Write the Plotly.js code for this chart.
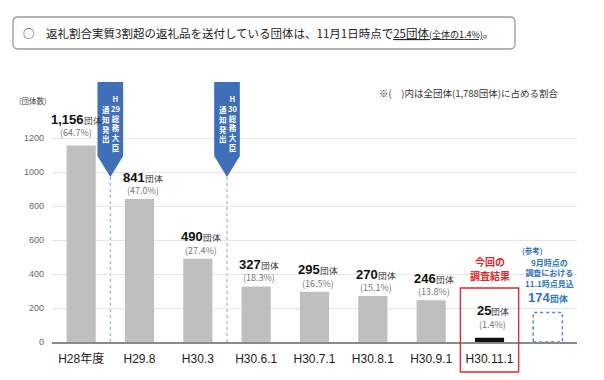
<!DOCTYPE html>
<html>
<head>
<meta charset="utf-8">
<script src="https://cdn.plot.ly/plotly-3.0.1.min.js"></script>
<style>html,body{margin:0;padding:0;background:#fff;}#chart{width:604px;height:380px;}</style>
</head>
<body>
<div id="chart"></div>
<script>
// ---- data ----
const categories = ["H28年度", "H29.8", "H30.3", "H30.6.1", "H30.7.1", "H30.8.1", "H30.9.1", "H30.11.1"];
const counts = [1156, 841, 490, 327, 295, 270, 246, 25];
const shares = [64.7, 47.0, 27.4, 18.3, 16.5, 15.1, 13.8, 1.4];
const refCategory = "参考";
const refCount = 174;
const refLines = ["9月時点の", "調査における", "11.1時点見込"];
const yTicks = [0, 200, 400, 600, 800, 1000, 1200];
const noticeBefore = ["H29.8", "H30.6.1"];
const noticeYears = ["29", "30"];
const noticeTitle = ["総", "務", "大", "臣"];
const noticeBody = ["通", "知", "発", "出"];
const headerText = "○　返礼割合実質3割超の返礼品を送付している団体は、11月1日時点で";
const headerUnderlined = "25団体";
const headerSmall = "(全体の1.4%)";
const noteText = "※(　)内は全団体(1,788団体)に占める割合";
const unitLabel = "(団体数)";
const currentLabel = ["今回の", "調査結果"];

// ---- layout helpers ----
const W = 604, H = 380;
const M = {l: 52, r: 27, t: 70, b: 38};
const PW = W - M.l - M.r, PH = H - M.t - M.b;
const pX = px => (px - M.l) / PW;
const pY = py => (H - M.b - py) / PH;

const JP = '"Noto Sans CJK JP", "Liberation Sans", sans-serif';
const NUM = '"Liberation Sans Narrow", "Liberation Sans", Arial, sans-serif';
const BLUE = '#3f6fb8';
const REFBLUE = '#2f74c0';
const RED = '#e0282e';

const allCats = categories.concat([refCategory]);
const lastIdx = categories.length - 1;
const refIdx = allCats.indexOf(refCategory);

const barColors = counts.map((v, i) => i === lastIdx ? '#111111' : '#bfbfbf');

const traces = [{
  type: 'bar',
  x: categories,
  y: counts,
  width: 0.5,
  marker: {color: barColors},
  hoverinfo: 'skip',
  cliponaxis: false
}];

const annotations = [];
const shapes = [];

// value labels
counts.forEach((v, i) => {
  const extra = (i === 0) ? 4 : (i === lastIdx ? 5 : 0);
  const xs = (i === 0) ? -5 : 3;
  annotations.push({
    x: i, y: v, xref: 'x', yref: 'y', xanchor: 'center', yanchor: 'middle',
    yshift: 22 + extra, xshift: xs, showarrow: false,
    text: '<b>' + v.toLocaleString('en-US') + '</b><span style="font-size:8.5px;color:#333">団体</span>',
    font: {family: NUM, size: 13, color: '#111'}
  });
  annotations.push({
    x: i, y: v, xref: 'x', yref: 'y', xanchor: 'center', yanchor: 'middle',
    yshift: 8.5 + extra, xshift: xs, showarrow: false,
    text: '(' + shares[i].toFixed(1) + '%)',
    font: {family: JP, size: 9, color: '#777'}
  });
});

// header rounded box
(function () {
  const x0 = 13, x1 = 515, y0 = 17, y1 = 49, r = 5;
  const P = (x, y) => pX(x).toFixed(5) + ',' + pY(y).toFixed(5);
  const path = 'M' + P(x0 + r, y0) + ' L' + P(x1 - r, y0) + ' Q' + P(x1, y0) + ' ' + P(x1, y0 + r) +
    ' L' + P(x1, y1 - r) + ' Q' + P(x1, y1) + ' ' + P(x1 - r, y1) +
    ' L' + P(x0 + r, y1) + ' Q' + P(x0, y1) + ' ' + P(x0, y1 - r) +
    ' L' + P(x0, y0 + r) + ' Q' + P(x0, y0) + ' ' + P(x0 + r, y0) + ' Z';
  shapes.push({type: 'path', xref: 'paper', yref: 'paper', path: path,
    line: {color: '#9a9a9a', width: 1.3}, fillcolor: '#ffffff', layer: 'below'});
})();
annotations.push({
  xref: 'paper', yref: 'paper', x: pX(21), y: pY(33), xanchor: 'left', yanchor: 'middle', showarrow: false,
  text: headerText + '<span style="text-decoration:underline">' + headerUnderlined +
    '<span style="font-size:9px">' + headerSmall + '</span></span>。',
  font: {family: JP, size: 11.5, color: '#222'}
});

// note
annotations.push({
  xref: 'paper', yref: 'paper', x: pX(561), y: pY(93), xanchor: 'right', yanchor: 'middle', showarrow: false,
  text: noteText, font: {family: JP, size: 9.5, color: '#333'}
});
// unit label
annotations.push({
  xref: 'paper', yref: 'paper', x: pX(33), y: pY(100), xanchor: 'center', yanchor: 'middle', showarrow: false,
  text: unitLabel, font: {family: JP, size: 7.5, color: '#444'}
});

// notice banners
noticeBefore.forEach((cat, k) => {
  const cx = categories.indexOf(cat) - 0.5;
  const hw = 0.22;
  const yt = pY(82), yc = pY(156), ytip = pY(177);
  shapes.push({
    type: 'path', xref: 'x', yref: 'paper',
    path: 'M' + (cx - hw) + ',' + yt + ' L' + (cx + hw) + ',' + yt + ' L' + (cx + hw) + ',' + yc +
      ' L' + cx + ',' + ytip + ' L' + (cx - hw) + ',' + yc + ' Z',
    fillcolor: BLUE, line: {width: 0}, layer: 'above'
  });
  shapes.push({
    type: 'line', xref: 'x', yref: 'paper', x0: cx, x1: cx, y0: 0, y1: ytip,
    line: {color: '#8aa3c8', width: 1, dash: 'dot'}, layer: 'below'
  });
  const right = ['H', noticeYears[k]].concat(noticeTitle);
  annotations.push({
    xref: 'x', yref: 'paper', x: cx, xshift: 5.5, y: pY(91), xanchor: 'center', yanchor: 'top',
    showarrow: false, text: '<b>' + right.join('<br>') + '</b>', font: {family: JP, size: 7.5, color: '#ffffff'}
  });
  annotations.push({
    xref: 'x', yref: 'paper', x: cx, xshift: -4.5, y: pY(102), xanchor: 'center', yanchor: 'top',
    showarrow: false, text: '<b>' + noticeBody.join('<br>') + '</b>', font: {family: JP, size: 7.5, color: '#ffffff'}
  });
});

// current survey red box and label
shapes.push({
  type: 'rect', xref: 'x', yref: 'paper', x0: lastIdx - 0.5, x1: lastIdx + 0.5, y0: pY(372), y1: pY(288),
  line: {color: RED, width: 1.3}, fillcolor: 'rgba(0,0,0,0)', layer: 'above'
});
currentLabel.forEach((line, j) => {
  annotations.push({
    xref: 'x', yref: 'paper', x: lastIdx, y: pY(261 + j * 14.5), xanchor: 'center', yanchor: 'middle', showarrow: false,
    text: '<b>' + line + '</b>', font: {family: JP, size: 10, color: RED}
  });
});

// reference (estimate) dashed box and labels
shapes.push({
  type: 'rect', xref: 'x', yref: 'y', x0: refIdx - 0.25, x1: refIdx + 0.25, y0: 0, y1: refCount,
  line: {color: '#4f86cf', width: 1.5, dash: 'dot'}, fillcolor: 'rgba(0,0,0,0)', layer: 'above'
});
annotations.push({
  xref: 'x', yref: 'paper', x: refIdx, xshift: -15, y: pY(250), xanchor: 'center', yanchor: 'middle', showarrow: false,
  text: '<b>(参考)</b>', font: {family: JP, size: 7.5, color: REFBLUE}
});
annotations.push({
  xref: 'x', yref: 'paper', x: refIdx, xshift: 2, y: pY(273), xanchor: 'center', yanchor: 'middle', showarrow: false,
  text: '<b>' + refLines.join('<br>') + '</b>', font: {family: JP, size: 8, color: REFBLUE}
});
annotations.push({
  xref: 'x', yref: 'paper', x: refIdx, xshift: 1, y: pY(297), xanchor: 'center', yanchor: 'middle', showarrow: false,
  text: '<b>' + refCount + '</b><span style="font-size:8.5px"><b>団体</b></span>', font: {family: NUM, size: 13, color: REFBLUE}
});

const layout = {
  width: W, height: H,
  margin: M,
  paper_bgcolor: '#ffffff', plot_bgcolor: '#ffffff',
  showlegend: false,
  bargap: 0.5,
  xaxis: {
    type: 'category', categoryorder: 'array', categoryarray: allCats,
    range: [-0.5, allCats.length - 0.5],
    tickvals: categories, ticktext: categories,
    showgrid: false, showline: true, linecolor: '#8a8a8a', linewidth: 1.5,
    ticks: '', ticklabelstandoff: 5,
    tickfont: {family: '"Liberation Sans", "Noto Sans CJK JP", sans-serif', size: 12, color: '#222'},
    fixedrange: true
  },
  yaxis: {
    range: [0, 1600], tickvals: yTicks, ticktext: yTicks.map(String),
    showgrid: true, gridcolor: '#e6e6e6', gridwidth: 1, zeroline: false, showline: false,
    ticks: '', ticklabelstandoff: 7,
    tickfont: {family: '"Liberation Sans", sans-serif', size: 9, color: '#666'},
    fixedrange: true
  },
  shapes: shapes,
  annotations: annotations
};

Plotly.newPlot('chart', traces, layout, {staticPlot: true, displayModeBar: false});
</script>
</body>
</html>
